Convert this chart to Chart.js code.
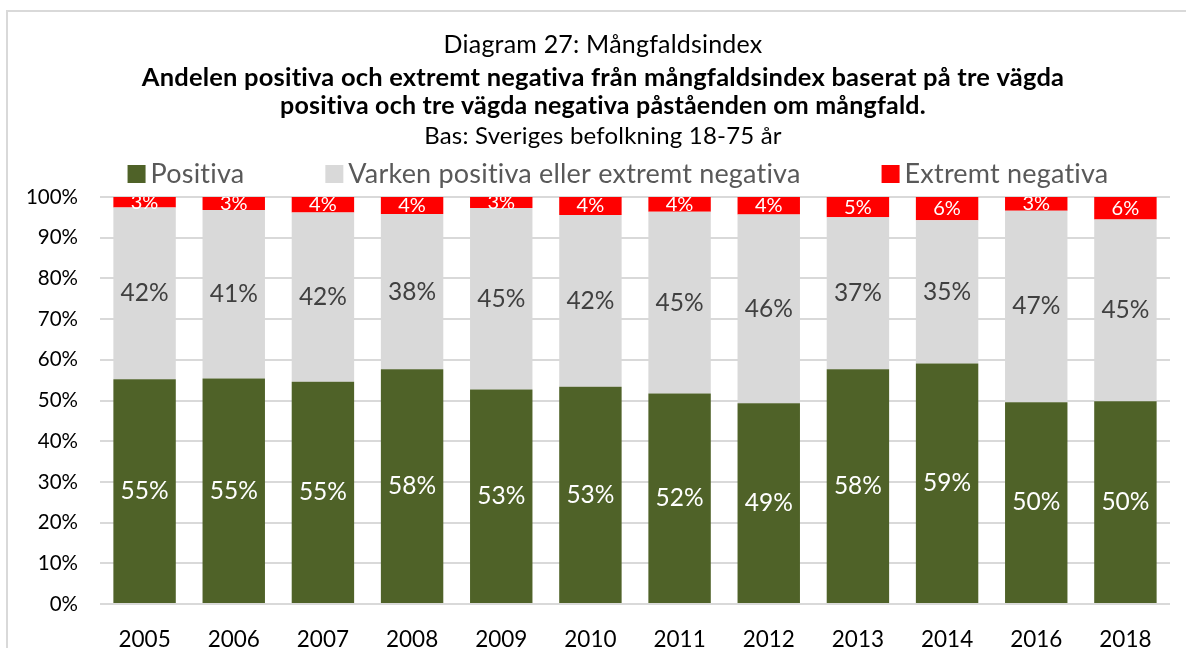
<!DOCTYPE html>
<html>
<head>
<meta charset="utf-8">
<script src="https://cdn.jsdelivr.net/npm/chart.js@4.4.1/dist/chart.umd.min.js"></script>
<style>
  html, body { margin: 0; padding: 0; background: #fff; overflow: hidden; }
  #wrap { position: relative; width: 1186px; height: 648px; overflow: hidden; }
  #frame { position: absolute; left: 6px; top: 10px; width: 1300px; height: 800px; border: 2px solid #d9d9d9; }
  #chart { position: absolute; left: 0; top: 0; }
</style>
</head>
<body>
<div id="wrap">
  <div id="frame"></div>
  <canvas id="chart" width="1186" height="648"></canvas>
</div>
<script>
const years = ["2005", "2006", "2007", "2008", "2009", "2010", "2011", "2012", "2013", "2014", "2016", "2018"];
const positiva = [55.2, 55.4, 54.6, 57.7, 52.7, 53.4, 51.7, 49.3, 57.7, 59.1, 49.6, 49.8];
const varken = [42.2, 41.4, 41.6, 38.1, 44.6, 42.2, 44.7, 46.4, 37.3, 35.2, 47.0, 44.7];
const negativa = [2.6, 3.2, 3.8, 4.2, 2.7, 4.4, 3.6, 4.3, 5.0, 5.7, 3.4, 5.5];
const seriesNames = ["Positiva", "Varken positiva eller extremt negativa", "Extremt negativa"];
const seriesColors = ["#4f6228", "#d9d9d9", "#ff0000"];
const labelColors = ["#ffffff", "#404040", "#ffffff"];

const titleLines = [
  { text: "Diagram 27: Mångfaldsindex", bold: false, size: 25, y: 45 },
  { text: "Andelen positiva och extremt negativa från mångfaldsindex baserat på tre vägda", bold: true, size: 25.5, y: 78 },
  { text: "positiva och tre vägda negativa påståenden om mångfald.", bold: true, size: 25, y: 106 },
  { text: "Bas: Sveriges befolkning 18-75 år", bold: false, size: 24, y: 136 }
];

const FONT = "Lato, 'Open Sans', sans-serif";

// titles above the legend
const headerPlugin = {
  id: "header",
  afterDraw(chart) {
    const ctx = chart.ctx;
    ctx.save();
    ctx.letterSpacing = "0.2px"; // stops the "ti" ligature
    ctx.textAlign = "center";
    ctx.textBaseline = "middle";
    ctx.fillStyle = "#000";
    titleLines.forEach(l => {
      ctx.font = (l.bold ? "bold " : "") + l.size + "px " + FONT;
      ctx.fillText(l.text, 603, l.y);
    });
    ctx.restore();
  }
};

// legend row, drawn by hand so the wide spacing fits
const legendPlugin = {
  id: "legendRow",
  afterDraw(chart) {
    const ctx = chart.ctx;
    ctx.save();
    ctx.letterSpacing = "0.2px";
    ctx.font = "27px " + FONT;
    ctx.textBaseline = "middle";
    const box = 18, gap = 5, spacing = 81;
    const widths = seriesNames.map(n => box + gap + ctx.measureText(n).width);
    const total = widths.reduce((a, b) => a + b, 0) + spacing * (widths.length - 1);
    let x = 618 - total / 2;
    const y = 174;
    seriesNames.forEach((n, i) => {
      ctx.fillStyle = seriesColors[i];
      ctx.fillRect(x, y - box / 2, box, box);
      ctx.fillStyle = "#595959";
      ctx.fillText(n, x + box + gap, y);
      x += widths[i] + spacing;
    });
    ctx.restore();
  }
};

// percentage labels inside the bar segments
const valueLabels = {
  id: "valueLabels",
  afterDatasetsDraw(chart) {
    const ctx = chart.ctx;
    const a = chart.chartArea;
    ctx.save();
    ctx.beginPath();
    ctx.rect(a.left, a.top, a.right - a.left, a.bottom - a.top);
    ctx.clip();
    ctx.textAlign = "center";
    ctx.textBaseline = "middle";
    chart.data.datasets.forEach((ds, di) => {
      const meta = chart.getDatasetMeta(di);
      ctx.font = (di === 2 ? "20px " : "24.5px ") + FONT;
      ctx.fillStyle = labelColors[di];
      meta.data.forEach((bar, i) => {
        const yMid = (bar.y + bar.base) / 2;
        ctx.fillText(Math.round(ds.data[i]) + "%", bar.x, yMid);
      });
    });
    ctx.restore();
  }
};

new Chart(document.getElementById("chart").getContext("2d"), {
  type: "bar",
  data: {
    labels: years,
    datasets: [
      { label: seriesNames[0], data: positiva, backgroundColor: seriesColors[0] },
      { label: seriesNames[1], data: varken, backgroundColor: seriesColors[1] },
      { label: seriesNames[2], data: negativa, backgroundColor: seriesColors[2] }
    ]
  },
  options: {
    responsive: false,
    animation: false,
    layout: { padding: { top: 197, left: 0, right: 16, bottom: 0 } },
    datasets: { bar: { categoryPercentage: 0.7, barPercentage: 1 } },
    plugins: { legend: { display: false }, title: { display: false }, tooltip: { enabled: false } },
    scales: {
      x: {
        stacked: true,
        grid: { display: false },
        border: { display: false },
        ticks: { color: "#000", font: { family: FONT, size: 22.5 }, padding: 14 },
        afterFit(scale) { scale.height = 44; }
      },
      y: {
        stacked: true,
        min: 0,
        max: 100,
        grid: { color: "#d9d9d9", lineWidth: 2, drawTicks: false },
        border: { display: false },
        ticks: {
          stepSize: 10,
          color: "#000",
          font: { family: FONT, size: 20.5 },
          padding: 22,
          callback: v => v + "%"
        },
        afterFit(scale) { scale.width = 100; }
      }
    }
  },
  plugins: [headerPlugin, legendPlugin, valueLabels]
});
</script>
</body>
</html>
